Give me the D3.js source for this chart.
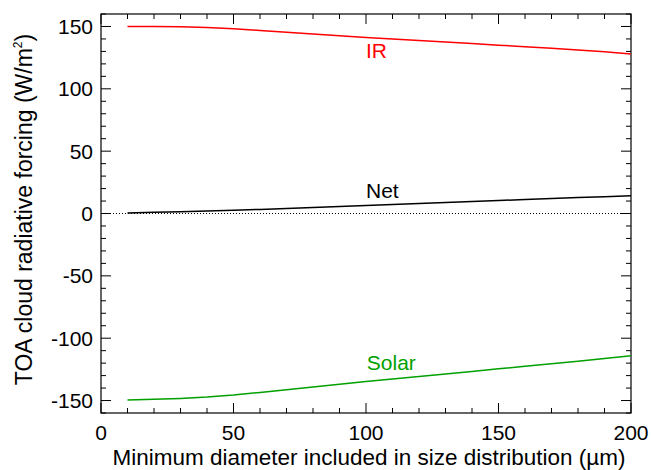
<!DOCTYPE html>
<html>
<head>
<meta charset="utf-8">
<script src="https://cdn.jsdelivr.net/npm/d3@7"></script>
<style>
  body { margin: 0; background: #fff; }
  text { font-family: "Liberation Sans", Arial, sans-serif; }
</style>
</head>
<body>
<div id="chart"></div>
<script>
const width = 651, height = 470;
const margin = {top: 14, right: 20, bottom: 57, left: 101};

// values
const diameters = [10, 20, 30, 40, 50, 60, 70, 80, 90, 100, 110, 120, 130, 140, 150, 160, 170, 180, 190, 200];
const irForcing = [150, 150, 149.8, 149.2, 148.2, 146.8, 145.4, 144, 142.6, 141.2, 140, 138.8, 137.6, 136.3, 135, 133.8, 132.5, 131.2, 129.8, 128];
const solarForcing = [-149.5, -149, -148.3, -147.2, -145.6, -143.5, -141.4, -139.2, -137, -134.8, -132.8, -130.8, -128.8, -126.7, -124.6, -122.6, -120.5, -118.4, -116.3, -114];
const netForcing = [0.5, 1.0, 1.5, 2.0, 2.6, 3.3, 4.0, 4.8, 5.6, 6.4, 7.2, 8.0, 8.8, 9.6, 10.4, 11.2, 12.0, 12.8, 13.5, 14.2];
const seriesNames = ["IR", "Net", "Solar"];
const seriesColors = ["#ff0000", "#000000", "#00a000"];
const labelPos = [[100, 124.7], [100, 12.4], [100.3, -125.5]]; // [x, y] in data units
const xTicks = [0, 50, 100, 150, 200];
const yTicks = [-150, -100, -50, 0, 50, 100, 150];

const svg = d3.select("#chart").append("svg")
    .attr("width", width)
    .attr("height", height);

const x = d3.scaleLinear().domain([0, 200]).range([margin.left, width - margin.right]);
const y = d3.scaleLinear().domain([-160, 160]).range([height - margin.bottom, margin.top]);

const x0 = x.range()[0], x1 = x.range()[1];
const y0 = y.range()[0], y1 = y.range()[1];

// zero line
svg.append("line")
    .attr("x1", x0).attr("x2", x1)
    .attr("y1", y(0)).attr("y2", y(0))
    .attr("stroke", "#000").attr("stroke-width", 1)
    .attr("stroke-dasharray", "1,2");

// ticks (inward, on all four sides)
const g = svg.append("g").attr("stroke", "#000").attr("stroke-width", 1);
d3.range(0, 201, 10).forEach(v => {
    const len = v % 50 === 0 ? 10 : 5;
    g.append("line").attr("x1", x(v)).attr("x2", x(v)).attr("y1", y0).attr("y2", y0 - len);
    g.append("line").attr("x1", x(v)).attr("x2", x(v)).attr("y1", y1).attr("y2", y1 + len);
});
d3.range(-160, 161, 10).forEach(v => {
    const len = v % 50 === 0 ? 10 : 5;
    g.append("line").attr("y1", y(v)).attr("y2", y(v)).attr("x1", x0).attr("x2", x0 + len);
    g.append("line").attr("y1", y(v)).attr("y2", y(v)).attr("x1", x1).attr("x2", x1 - len);
});

// frame
svg.append("rect")
    .attr("x", x0).attr("y", y1)
    .attr("width", x1 - x0).attr("height", y0 - y1)
    .attr("fill", "none").attr("stroke", "#000").attr("stroke-width", 1.2);

// tick labels
svg.append("g").selectAll("text").data(xTicks).join("text")
    .attr("x", d => x(d)).attr("y", y0 + 27)
    .attr("text-anchor", "middle")
    .attr("font-size", 21)
    .text(d => d);

svg.append("g").selectAll("text").data(yTicks).join("text")
    .attr("x", x0 - 8).attr("y", d => y(d) + 7.5)
    .attr("text-anchor", "end")
    .attr("font-size", 21)
    .text(d => d);

// axis titles
svg.append("text")
    .attr("x", (x0 + x1) / 2 + 3).attr("y", height - 5)
    .attr("text-anchor", "middle")
    .attr("font-size", 22.5)
    .text("Minimum diameter included in size distribution (\u00b5m)");

const yt = svg.append("text")
    .attr("transform", `translate(32,${(y0 + y1) / 2 - 4}) rotate(-90)`)
    .attr("text-anchor", "middle")
    .attr("font-size", 23);
yt.append("tspan").text("TOA cloud radiative forcing (W/m");
yt.append("tspan").attr("font-size", 12).attr("dy", -10).text("2");
yt.append("tspan").attr("dy", 10).text(")");

// lines
const series = [irForcing, netForcing, solarForcing];
const line = d3.line().x((d, i) => x(diameters[i])).y(d => y(d));

series.forEach((vals, k) => {
    svg.append("path")
        .datum(vals)
        .attr("d", line)
        .attr("fill", "none")
        .attr("stroke", seriesColors[k])
        .attr("stroke-width", 1.5);
    svg.append("text")
        .attr("x", x(labelPos[k][0])).attr("y", y(labelPos[k][1]))
        .attr("text-anchor", "start")
        .attr("font-size", 21)
        .attr("fill", seriesColors[k])
        .text(seriesNames[k]);
});
</script>
</body>
</html>
